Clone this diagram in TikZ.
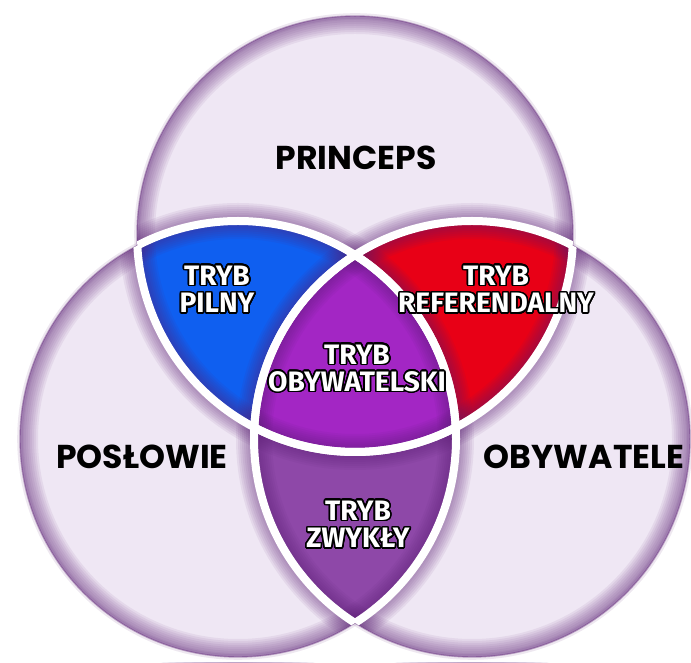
\documentclass[tikz,border=0pt]{standalone}
\usepackage{fontspec}
\usepackage[copies]{contour}
\usetikzlibrary{positioning}

\newfontfamily\glowna{Poppins}
\newfontfamily\tryby{Fira Sans}

\definecolor{lawenda}{RGB}{239,231,244}
\definecolor{lawendaciemna}{RGB}{204,178,218}
\definecolor{pilny}{RGB}{15,95,240}
\definecolor{referendalny}{RGB}{232,0,22}
\definecolor{obywatelski}{RGB}{163,38,196}
\definecolor{zwykly}{RGB}{142,72,168}
\definecolor{cien}{RGB}{90,30,115}

\pgfdeclareradialshading{lawendowe}{\pgfpoint{0bp}{0bp}}{
    color(0bp)=(lawenda);
    color(28bp)=(lawenda);
    color(50bp)=(lawendaciemna)
}

\contourlength{1.1pt}
\contournumber{24}

\def\rr{5.45}
\def\ramka{(0,0) rectangle (17.275,16.55)}

\tikzset{
    etykieta/.style={
        font=\glowna\bfseries\fontsize{23.5}{28}\selectfont,
        text=black
    },
    tryb/.style={
        font=\tryby\bfseries\fontsize{20}{19.5}\selectfont,
        text=white,
        align=center
    },
    przerwa/.style={
        white,
        line width=2mm
    }
}

\begin{document}
\begin{tikzpicture}

    \useasboundingbox \ramka;

    % Srodki kol
    \coordinate (princeps)  at (8.875,10.7);
    \coordinate (poslowie)  at (5.95,5.575);
    \coordinate (obywatele) at (11.8,5.575);

    % Tlo kol
    \foreach \c in {princeps,poslowie,obywatele}
        \shade[shading=lawendowe] (\c) circle (\rr);

    % Czesci wspolne
    \begin{scope}
        \clip (princeps) circle (\rr);
        \fill[pilny] (poslowie) circle (\rr);
        \fill[referendalny] (obywatele) circle (\rr);
    \end{scope}
    \begin{scope}
        \clip (poslowie) circle (\rr);
        \fill[zwykly] (obywatele) circle (\rr);
        \clip (obywatele) circle (\rr);
        \fill[obywatelski] (princeps) circle (\rr);
    \end{scope}

    % Cienie wewnatrz
    \foreach \c in {princeps,poslowie,obywatele}
        \foreach \w in {9,8,...,2}
            \draw[cien, line width=\w mm, opacity=.07] (\c) circle (\rr);

    % Poza kolami
    \begin{scope}[even odd rule]
        \clip \ramka (princeps) circle (\rr);
        \clip \ramka (poslowie) circle (\rr);
        \clip \ramka (obywatele) circle (\rr);
        \fill[white] \ramka;
    \end{scope}

    % Obwodki
    \foreach \c in {princeps,poslowie,obywatele}{
        \draw[cien, line width=1.4mm, opacity=.1] (\c) circle (\rr);
        \draw[cien, line width=.35mm, opacity=.4] (\c) circle (\rr);
    }

    % Przerwy
    \foreach \c/\d in {princeps/poslowie, princeps/obywatele,
                       poslowie/princeps, poslowie/obywatele,
                       obywatele/princeps, obywatele/poslowie}{
        \begin{scope}
            \clip (\d) circle (\rr);
            \draw[przerwa] (\c) circle (\rr);
        \end{scope}
    }

    % Napisy
    \node[etykieta] (tPrinceps)  at (8.9,12.6)   {PRINCEPS};
    \node[etykieta] (tPoslowie)  at (3.55,5.125) {POSŁOWIE};
    \node[etykieta] (tObywatele) at (14.6,5.125) {OBYWATELE};

    \node[tryb] (tPilny)        at (5.425,9.3)   {\contour{black}{TRYB}\\\contour{black}{PILNY}};
    \node[tryb] (tReferendalny) at (12.4,9.3)    {\contour{black}{TRYB}\\\contour{black}{REFERENDALNY}};
    \node[tryb] (tObywatelski)  at (8.925,7.325) {\contour{black}{TRYB}\\\contour{black}{OBYWATELSKI}};
    \node[tryb] (tZwykly)       at (8.95,3.425)  {\contour{black}{TRYB}\\\contour{black}{ZWYKŁY}};

\end{tikzpicture}
\end{document}
